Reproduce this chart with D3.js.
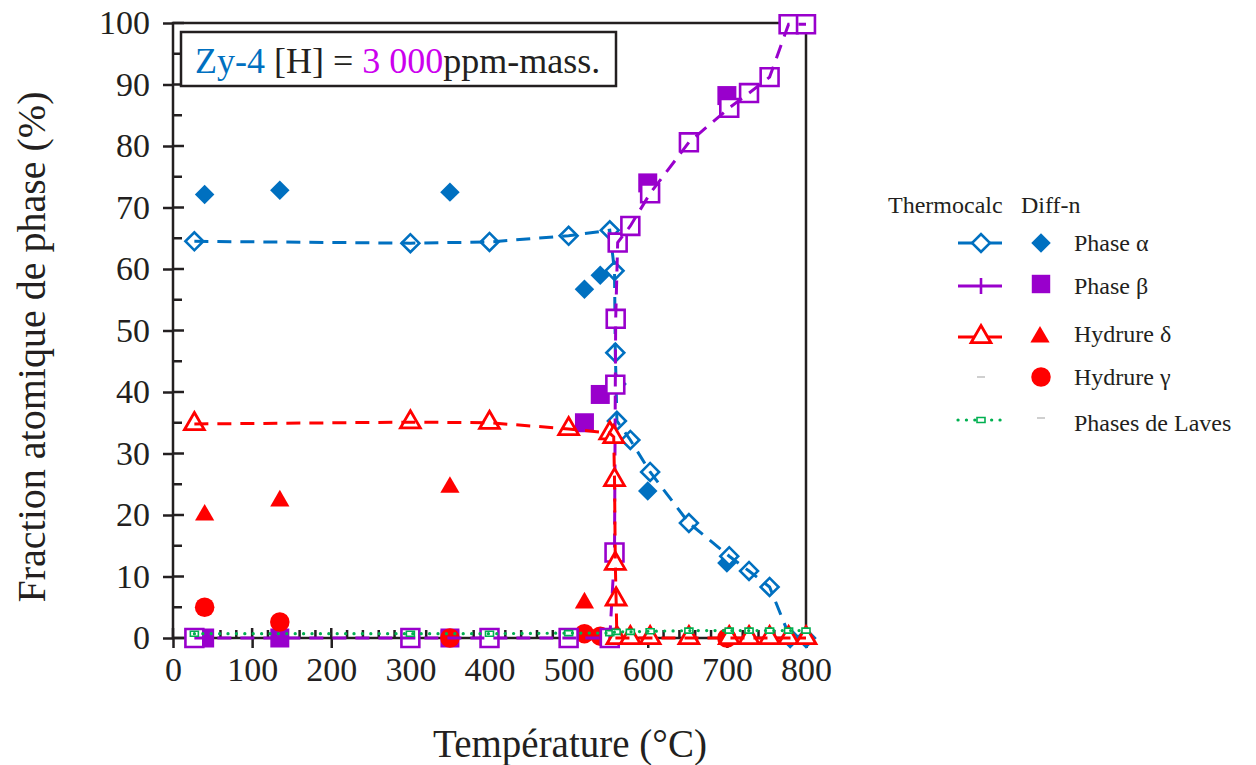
<!DOCTYPE html>
<html><head><meta charset="utf-8">
<script src="https://cdn.jsdelivr.net/npm/d3@7"></script>
<style>
body{margin:0;background:#fff}
svg{display:block}
text{font-family:"Liberation Serif","Times New Roman",serif;fill:#231f20}
</style>
</head><body>
<svg id="c" width="1256" height="765"></svg>
<script>
// ---------------- data ----------------
const xTicks = [0,100,200,300,400,500,600,700,800];
const yTicks = [0,10,20,30,40,50,60,70,80,90,100];

// Thermocalc (computed) curves
const tcAlphaT = [27,300,400,500,552,558,559,560,561,578,603,652,703,728,754,780,800];
const tcAlphaV = [64.5,64.2,64.4,65.4,66.3,59.7,46.4,41.3,35.3,32.2,27.0,18.7,13.3,10.9,8.3,0,0];

const tcBetaT = [27,300,400,500,552,558,559,559.5,562,578,603,652,703,728,754,778,800];
const tcBetaV = [0,0,0,0,0,13.9,41.2,51.9,64.3,67.0,72.3,80.6,86.2,88.6,91.2,99.8,99.8];

const tcDeltaT = [27,300,400,500,552,557,558,559,560,561,578,603,652,703,728,754,778,800];
const tcDeltaV = [34.8,35.1,35.0,34.0,33.3,32.7,25.7,12.1,6.3,0,0,0,0,0,0,0,0,0];

const tcLavesT = [27,300,400,500,552,560,578,603,652,703,728,754,778,800];
const tcLavesV = [0.7,0.7,0.7,0.8,0.8,1.0,1.0,1.1,1.2,1.2,1.2,1.2,1.2,1.2];

// Diff-n (simulated) points
const diffT      = [40,135,350,520,540,600,700];
const diffAlpha  = [72.1,72.8,72.5,56.7,59.0,23.9,12.2];
const diffBeta   = [0,0,0,35.0,39.6,74.0,88.2];
const diffDelta  = [20.0,22.3,24.5,5.7,null,null,null];
const diffGamma  = [5.0,2.6,0,0.7,0.3,null,0];

const legendNames = ["Phase \u03b1","Phase \u03b2","Hydrure \u03b4","Hydrure \u03b3","Phases de Laves"];

// ---------------- colours ----------------
const BLUE="#0070c0", PURPLE="#9900cc", RED="#ff0000", GREEN="#00b050", INK="#231f20";

// ---------------- scales ----------------
const svg = d3.select("#c");
const x = d3.scaleLinear().domain([0,800]).range([173,806]);
const y = d3.scaleLinear().domain([0,100]).range([638,23]);

const zip = (T,V) => T.map((t,i)=>({t, v:V[i]})).filter(d=>d.v!==null && d.v!==undefined);

const sym = (type,size) => d3.symbol().type(type).size(size)();

// ---------------- axes ----------------
svg.append("rect").attr("x",x(0)).attr("y",y(100)).attr("width",x(800)-x(0)).attr("height",y(0)-y(100))
  .attr("fill","none").attr("stroke",INK).attr("stroke-width",2.5);

const ax = svg.append("g").attr("transform",`translate(0,${y(0)})`)
  .call(d3.axisBottom(x).tickValues(xTicks).tickSizeInner(10).tickSizeOuter(0).tickPadding(9).tickFormat(d3.format("d")));
ax.select(".domain").remove();
ax.selectAll("line").attr("stroke",INK).attr("stroke-width",2.5);
ax.selectAll("text").attr("font-size",34).attr("fill",INK).style("font-family",'"Liberation Serif",serif');

const ay = svg.append("g").attr("transform",`translate(${x(0)},0)`)
  .call(d3.axisLeft(y).tickValues(yTicks).tickSizeInner(10).tickSizeOuter(0).tickPadding(13).tickFormat(d3.format("d")));
ay.select(".domain").remove();
ay.selectAll("line").attr("stroke",INK).attr("stroke-width",2.5);
ay.selectAll("text").attr("font-size",34).attr("fill",INK).style("font-family",'"Liberation Serif",serif');

const ticksG = svg.append("g").attr("stroke",INK).attr("stroke-width",2.5);
ticksG.selectAll(".xi").data(xTicks).join("line")
  .attr("x1",d=>x(d)).attr("x2",d=>x(d)).attr("y1",y(0)).attr("y2",y(0)-10);
ticksG.selectAll(".xm").data(d3.range(20,800,20).filter(d=>d%100!==0)).join("line")
  .attr("x1",d=>x(d)).attr("x2",d=>x(d)).attr("y1",y(0)).attr("y2",y(0)-8);
ticksG.selectAll(".yi").data(yTicks).join("line")
  .attr("y1",d=>y(d)).attr("y2",d=>y(d)).attr("x1",x(0)).attr("x2",x(0)+11);
ticksG.selectAll(".ym").data(d3.range(5,100,10)).join("line")
  .attr("y1",d=>y(d)).attr("y2",d=>y(d)).attr("x1",x(0)).attr("x2",x(0)+9);

svg.append("text").attr("x",570).attr("y",757).attr("text-anchor","middle")
  .attr("font-size",39).text("Température (°C)");
svg.append("text").attr("transform","translate(45,347) rotate(-90)").attr("text-anchor","middle")
  .attr("font-size",40).text("Fraction atomique de phase (%)");

// ---------------- marks ----------------
const line = d3.line().x(d=>x(d.t)).y(d=>y(d.v));
const plot = svg.append("g");

function markers(data, path, opts){
  plot.append("g").selectAll("path").data(data).join("path")
    .attr("d",path)
    .attr("transform",d=>`translate(${x(d.t)},${y(d.v)})${opts.rot?" rotate(45)":""}`)
    .attr("fill",opts.fill).attr("stroke",opts.stroke||"none").attr("stroke-width",opts.sw||0);
}
function curve(data,color,dash,w){
  plot.append("path").datum(data).attr("d",line).attr("fill","none")
    .attr("stroke",color).attr("stroke-width",w||3).attr("stroke-dasharray",dash)
    .attr("stroke-linecap","butt");
}

markers(zip(diffT,diffAlpha), sym(d3.symbolSquare,190), {fill:BLUE, rot:true});
markers(zip(diffT,diffBeta), sym(d3.symbolSquare,361), {fill:PURPLE});
markers(zip(diffT,diffDelta), sym(d3.symbolTriangle,160), {fill:RED});
markers(zip(diffT,diffGamma), sym(d3.symbolCircle,300), {fill:RED});

const a = zip(tcAlphaT,tcAlphaV), b = zip(tcBetaT,tcBetaV), dl = zip(tcDeltaT,tcDeltaV), lv = zip(tcLavesT,tcLavesV);

markers(a, sym(d3.symbolSquare,160), {fill:"#fff", stroke:BLUE, sw:2.6, rot:true});
curve(a, BLUE, "14 9");
markers(b, sym(d3.symbolSquare,320), {fill:"#fff", stroke:PURPLE, sw:2.6});
curve(b, PURPLE, "14 9");
markers(dl, sym(d3.symbolTriangle,170), {fill:"#fff", stroke:RED, sw:2.8});
curve(dl, RED, "14 9");
markers(lv, "M-4,-2.5h8v5h-8z", {fill:"#fff", stroke:GREEN, sw:1.6});
plot.append("path").datum(lv).attr("d",line).attr("fill","none")
  .attr("stroke",GREEN).attr("stroke-width",3.2).attr("stroke-dasharray","0.1 8.3").attr("stroke-linecap","round");

// ---------------- title box ----------------
svg.append("rect").attr("x",181).attr("y",32).attr("width",435).attr("height",54)
  .attr("fill","#fff").attr("stroke",INK).attr("stroke-width",2.5);
const tt = svg.append("text").attr("x",195).attr("y",73).attr("font-size",36);
tt.append("tspan").style("fill",BLUE).text("Zy-4");
tt.append("tspan").text(" [H] = ");
tt.append("tspan").style("fill","#cc00ee").text("3 000");
tt.append("tspan").text("ppm-mass.");

// ---------------- legend ----------------
const lg = svg.append("g");
lg.append("text").attr("x",888).attr("y",213).attr("font-size",24).text("Thermocalc");
lg.append("text").attr("x",1021).attr("y",213).attr("font-size",24).text("Diff-n");
const rowsY = [243,286,337,377,420];
const textY = [251,294,342,385,431];
legendNames.forEach((n,i)=>{
  lg.append("text").attr("x",1074).attr("y",textY[i]).attr("font-size",24).text(n);
});
const ls = (yy,color)=>lg.append("line").attr("x1",958).attr("x2",1002).attr("y1",yy).attr("y2",yy)
  .attr("stroke",color).attr("stroke-width",3);
ls(rowsY[0],BLUE);
lg.append("path").attr("d",sym(d3.symbolSquare,160)).attr("transform",`translate(981,${rowsY[0]}) rotate(45)`)
  .attr("fill","#fff").attr("stroke",BLUE).attr("stroke-width",2.6);
ls(rowsY[1],PURPLE);
lg.append("line").attr("x1",981).attr("x2",981).attr("y1",rowsY[1]-8).attr("y2",rowsY[1]+8).attr("stroke",PURPLE).attr("stroke-width",2.6);
ls(rowsY[2],RED);
lg.append("path").attr("d",sym(d3.symbolTriangle,170)).attr("transform",`translate(981,${rowsY[2]})`)
  .attr("fill","#fff").attr("stroke",RED).attr("stroke-width",2.8);
lg.append("line").attr("x1",977).attr("x2",985).attr("y1",rowsY[3]).attr("y2",rowsY[3]).attr("stroke","#bfbfbf").attr("stroke-width",1.5);
lg.append("line").attr("x1",958).attr("x2",1002).attr("y1",rowsY[4]).attr("y2",rowsY[4])
  .attr("stroke",GREEN).attr("stroke-width",3.2).attr("stroke-dasharray","0.1 8.3").attr("stroke-linecap","round");
lg.append("path").attr("d","M-4,-2.5h8v5h-8z").attr("transform",`translate(981,${rowsY[4]})`)
  .attr("fill","#fff").attr("stroke",GREEN).attr("stroke-width",1.6);
lg.append("path").attr("d",sym(d3.symbolSquare,190)).attr("transform",`translate(1041,${rowsY[0]}) rotate(45)`).attr("fill",BLUE);
lg.append("path").attr("d",sym(d3.symbolSquare,340)).attr("transform",`translate(1041,${rowsY[1]-2})`).attr("fill",PURPLE);
lg.append("path").attr("d",sym(d3.symbolTriangle,160)).attr("transform",`translate(1040,${rowsY[2]})`).attr("fill",RED);
lg.append("path").attr("d",sym(d3.symbolCircle,300)).attr("transform",`translate(1041,${rowsY[3]})`).attr("fill",RED);
lg.append("line").attr("x1",1037).attr("x2",1045).attr("y1",rowsY[4]-2).attr("y2",rowsY[4]-2).attr("stroke","#bfbfbf").attr("stroke-width",1.5);
</script>
</body></html>
